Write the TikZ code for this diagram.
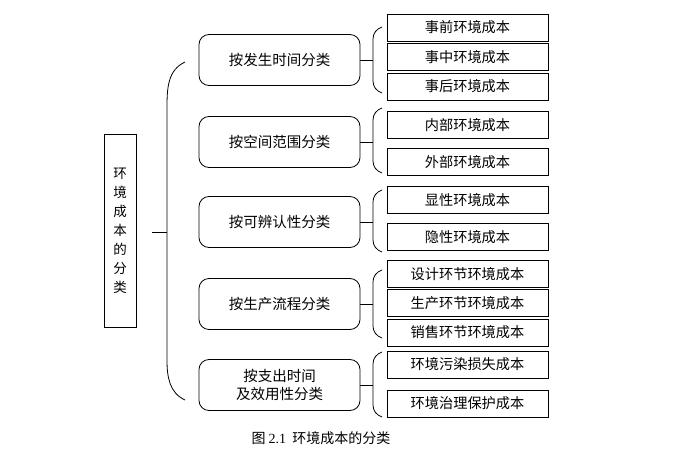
\documentclass[tikz,border=0pt]{standalone}
\usepackage{fontspec}
\setmainfont{Noto Sans CJK SC}
\newfontfamily\numfont{Liberation Serif}
\begin{document}
\begin{tikzpicture}[x=1pt,y=-1pt,line width=0.8pt]
\tikzstyle{mainbox} = [rectangle, draw=black, minimum width=32pt, minimum height=193pt, text width=14pt, align=center, inner sep=0pt, font=\fontsize{13.5}{19}\selectfont]
\tikzstyle{roundrect} = [rectangle, rounded corners=10pt, draw=black, minimum width=161pt, minimum height=51pt, align=center, font=\fontsize{14.5}{18}\selectfont]
\tikzstyle{leafbox} = [rectangle, draw=black, minimum width=161pt, minimum height=27pt, inner sep=0pt, font=\fontsize{14.2}{15}\selectfont]
\useasboundingbox (0,0) rectangle (681,455);
% left node
\node (cls)[mainbox] at (120,231) {环\\境\\成\\本\\的\\分\\类};
% middle nodes
\node (time)[roundrect] at (279.5,60) {按发生时间分类};
\node (space)[roundrect] at (279.5,142) {按空间范围分类};
\node (ident)[roundrect] at (279.5,222) {按可辨认性分类};
\node (proc)[roundrect] at (279.5,304) {按生产流程分类};
\node (pay)[roundrect] at (279.5,385) {按支出时间\\及效用性分类};
% right nodes
\node (pre)[leafbox] at (467.5,27.5) {事前环境成本};
\node (mid)[leafbox] at (467.5,57) {事中环境成本};
\node (post)[leafbox] at (467.5,86.5) {事后环境成本};
\node (inner)[leafbox] at (467.5,125) {内部环境成本};
\node (outer)[leafbox] at (467.5,162) {外部环境成本};
\node (expl)[leafbox] at (467.5,200) {显性环境成本};
\node (impl)[leafbox] at (467.5,237) {隐性环境成本};
\node (design)[leafbox] at (467.5,274) {设计环节环境成本};
\node (prod)[leafbox] at (467.5,303) {生产环节环境成本};
\node (sale)[leafbox] at (467.5,332.5) {销售环节环境成本};
\node (loss)[leafbox] at (467.5,364.5) {环境污染损失成本};
\node (care)[leafbox] at (467.5,403.5) {环境治理保护成本};
% big brace
\coordinate (tick) at (152,232);
\coordinate (brace) at (167,232);
\draw (tick) -- (brace);
\draw (185,62) to[out=205,in=90] (167,108) -- (167,360) to[out=-90,in=155] (185,400);
% small braces
\foreach \m/\t/\b in {time/27/93, space/108/173, ident/190/252, proc/270/338, pay/352/417}{
  \coordinate (\m-b) at (373,0 |- \m.east);
  \draw (\m.east) -- (\m-b);
  \draw (382,\t) to[out=200,in=90] (373,\t+12) -- (373,\b-12) to[out=-90,in=160] (382,\b);
}
% caption
\node (cap) at (321,438) {\fontsize{14}{16}\selectfont 图 {\numfont 2.1}\ \ 环境成本的分类};
\end{tikzpicture}
\end{document}
